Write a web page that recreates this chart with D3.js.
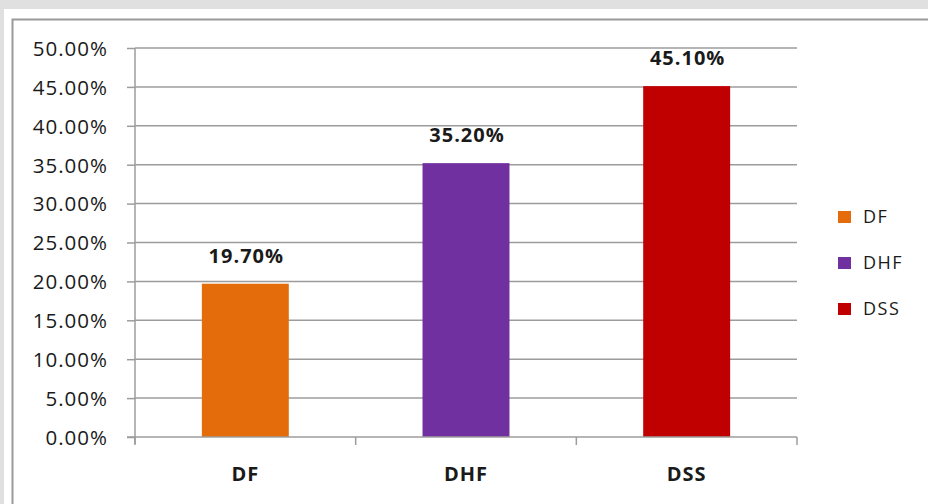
<!DOCTYPE html>
<html><head><meta charset="utf-8">
<script src="https://cdn.jsdelivr.net/npm/d3@7"></script>
<style>
html,body{margin:0;padding:0;background:#e0e0e0;overflow:hidden;}
svg{display:block;}
</style></head>
<body>
<svg id="chart" width="928" height="504"></svg>
<script>
const categories = ["DF", "DHF", "DSS"];
const values = [19.7, 35.2, 45.1];
const colors = ["#E46C0A", "#7030A0", "#C00000"];
const yTicks = [0, 5, 10, 15, 20, 25, 30, 35, 40, 45, 50];

const svg = d3.select("#chart");
const FONT = "'Open Sans', sans-serif";
const gridColor = "#9c9c9c";

svg.append("rect").attr("x", 4).attr("y", 9).attr("width", 930).attr("height", 500).attr("fill", "#ffffff");
svg.append("rect").attr("x", 12.5).attr("y", 19.5).attr("width", 940).attr("height", 500)
  .attr("fill", "none").attr("stroke", "#9a9a9a").attr("stroke-width", 2);

const pLeft = 135, pRight = 797, pTop = 48, pBottom = 437;
const x = d3.scaleBand().domain(categories).range([pLeft, pRight]).paddingInner(0.606).paddingOuter(0.303);
const y = d3.scaleLinear().domain([0, 50]).range([pBottom, pTop]);

// gridlines
svg.append("g").selectAll("line").data(yTicks.filter(d => d > 0)).join("line")
  .attr("x1", pLeft).attr("x2", pRight)
  .attr("y1", d => y(d)).attr("y2", d => y(d))
  .attr("stroke", gridColor).attr("stroke-width", 1.5);

// y axis
const yAxis = svg.append("g").attr("transform", `translate(${pLeft},0)`)
  .call(d3.axisLeft(y).tickValues(yTicks).tickSize(8).tickPadding(19)
    .tickFormat(d => d.toFixed(2) + "%"));
yAxis.selectAll("path,line").attr("stroke", gridColor).attr("stroke-width", 1.5);
yAxis.select(".domain").attr("d", `M0,${pTop}V${pBottom + 7}`);
yAxis.selectAll("text").attr("font-family", FONT).attr("font-size", 20.5)
  .attr("letter-spacing", "1px").attr("fill", "#1a1a1a").attr("dy", "0.36em");

// bars
svg.append("g").selectAll("rect").data(values).join("rect")
  .attr("x", (d, i) => x(categories[i]))
  .attr("width", x.bandwidth())
  .attr("y", d => y(d))
  .attr("height", d => y(0) - y(d))
  .attr("fill", (d, i) => colors[i]);

// x axis
const step = x.step();
const bounds = categories.map(c => x(c) - step * x.paddingInner() / 2);
bounds[0] = pLeft;
bounds.push(pRight);
const xg = svg.append("g").attr("transform", `translate(0,${pBottom})`);
xg.append("line").attr("x1", pLeft - 8).attr("x2", pRight).attr("y1", 0).attr("y2", 0)
  .attr("stroke", gridColor).attr("stroke-width", 1.5);
xg.selectAll("line.tick").data(bounds).join("line").attr("class", "tick")
  .attr("x1", d => d).attr("x2", d => d).attr("y1", 0).attr("y2", 8)
  .attr("stroke", gridColor).attr("stroke-width", 1.5);
const xAxis = svg.append("g").attr("transform", `translate(0,${pBottom})`)
  .call(d3.axisBottom(x).tickSize(0).tickPadding(30));
xAxis.select(".domain").remove();
xAxis.selectAll("text").attr("font-family", FONT).attr("font-size", 20)
  .attr("font-weight", "bold").attr("letter-spacing", "1px").attr("fill", "#1a1a1a");

// value labels
svg.append("g").selectAll("text").data(values).join("text")
  .attr("x", (d, i) => x(categories[i]) + x.bandwidth() / 2 + 1)
  .attr("y", d => y(d) - 21)
  .attr("text-anchor", "middle")
  .attr("font-family", FONT).attr("font-size", 20).attr("font-weight", "bold")
  .attr("letter-spacing", "1px").attr("fill", "#1a1a1a")
  .text(d => d.toFixed(2) + "%");

// legend
const lg = svg.append("g").selectAll("g").data(categories).join("g")
  .attr("transform", (d, i) => `translate(838,${217 + i * 46})`);
lg.append("rect").attr("x", 0).attr("y", -6).attr("width", 13).attr("height", 12)
  .attr("fill", (d, i) => colors[i]);
lg.append("text").attr("x", 25).attr("y", 0).attr("dy", "0.36em")
  .attr("font-family", FONT).attr("font-size", 18).attr("letter-spacing", "1.5px")
  .attr("fill", "#1a1a1a").text(d => d);
</script>
</body></html>
